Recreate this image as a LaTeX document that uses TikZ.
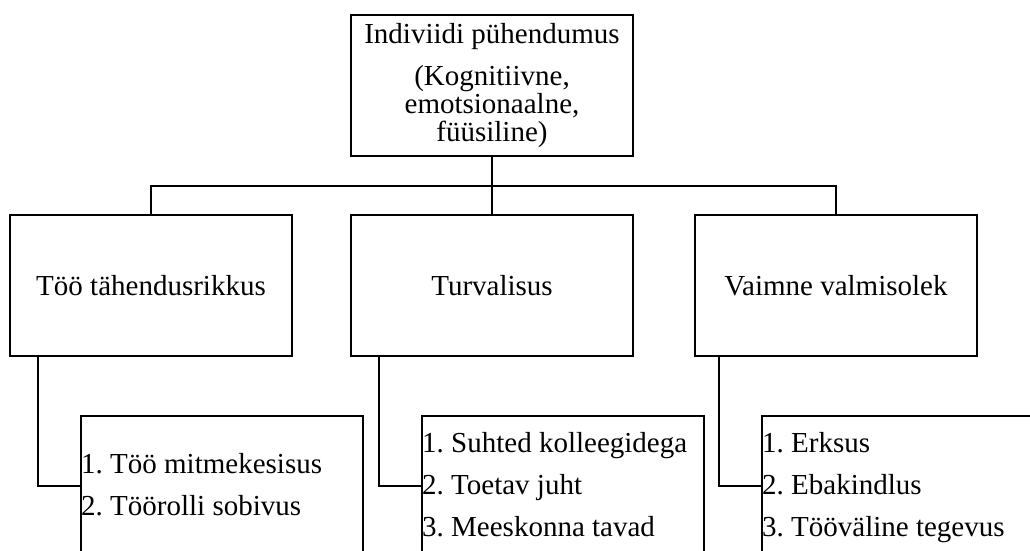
\documentclass[tikz,border=0pt]{standalone}
\usepackage{fontspec}
\setmainfont{Liberation Serif}
\frenchspacing
\begin{document}
\begin{tikzpicture}[x=1pt,y=-1pt,
  box/.style={draw, line width=1.8pt, minimum width=282pt, minimum height=141pt,
    inner sep=0pt, align=center, font=\fontsize{29}{28}\selectfont},
  listbox/.style={draw, line width=1.8pt, minimum width=282pt, minimum height=200pt,
    anchor=north west, inner sep=0pt},
  item/.style={anchor=base west, inner sep=0pt, font=\fontsize{29}{35}\selectfont},
  link/.style={line width=2pt}]
\useasboundingbox (0,0) rectangle (1030,551);
\clip (0,0) rectangle (1030,551);

% top level
\node[box] (top) at (492,85.5)
  {Indiviidi pühendumus\\[14pt](Kognitiivne,\\emotsionaalne,\\füüsiline)};

% second level
\node[box] (m1) at (151,285.5) {Töö tähendusrikkus};
\node[box] (m2) at (492,285.5) {Turvalisus};
\node[box] (m3) at (836,285.5) {Vaimne valmisolek};

% third level: list boxes running past the lower edge
\node[listbox] (b1) at (80,415) {};
\node[listbox] (b2) at (421,415) {};
\node[listbox] (b3) at (761,415) {};

\node[item] (b1a) at ([shift={(1pt,-58pt)}]b1.north west) {1. Töö mitmekesisus};
\node[item] (b1b) at ([shift={(1pt,-100pt)}]b1.north west) {2. Töörolli sobivus};

\node[item] (b2a) at ([shift={(1pt,-37pt)}]b2.north west) {1. Suhted kolleegidega};
\node[item] (b2b) at ([shift={(1pt,-79pt)}]b2.north west) {2. Toetav juht};
\node[item] (b2c) at ([shift={(1pt,-121pt)}]b2.north west) {3. Meeskonna tavad};

\node[item] (b3a) at ([shift={(1pt,-37pt)}]b3.north west) {1. Erksus};
\node[item] (b3b) at ([shift={(1pt,-79pt)}]b3.north west) {2. Ebakindlus};
\node[item] (b3c) at ([shift={(1pt,-121pt)}]b3.north west) {3. Tööväline tegevus};

% tree connectors
\coordinate (bus) at (492,185.5);
\draw[link] (top.south) -- (bus);
\draw[link] (m1.north) |- (bus) -| (m3.north);
\draw[link] (bus) -- (m2.north);

\coordinate (j1) at ([shift={(-42pt,-71pt)}]b1.north west);
\coordinate (j2) at ([shift={(-42pt,-71pt)}]b2.north west);
\coordinate (j3) at ([shift={(-42pt,-71pt)}]b3.north west);
\draw[link] (m1.south -| j1) |- (b1.west |- j1);
\draw[link] (m2.south -| j2) |- (b2.west |- j2);
\draw[link] (m3.south -| j3) |- (b3.west |- j3);
\end{tikzpicture}
\end{document}
